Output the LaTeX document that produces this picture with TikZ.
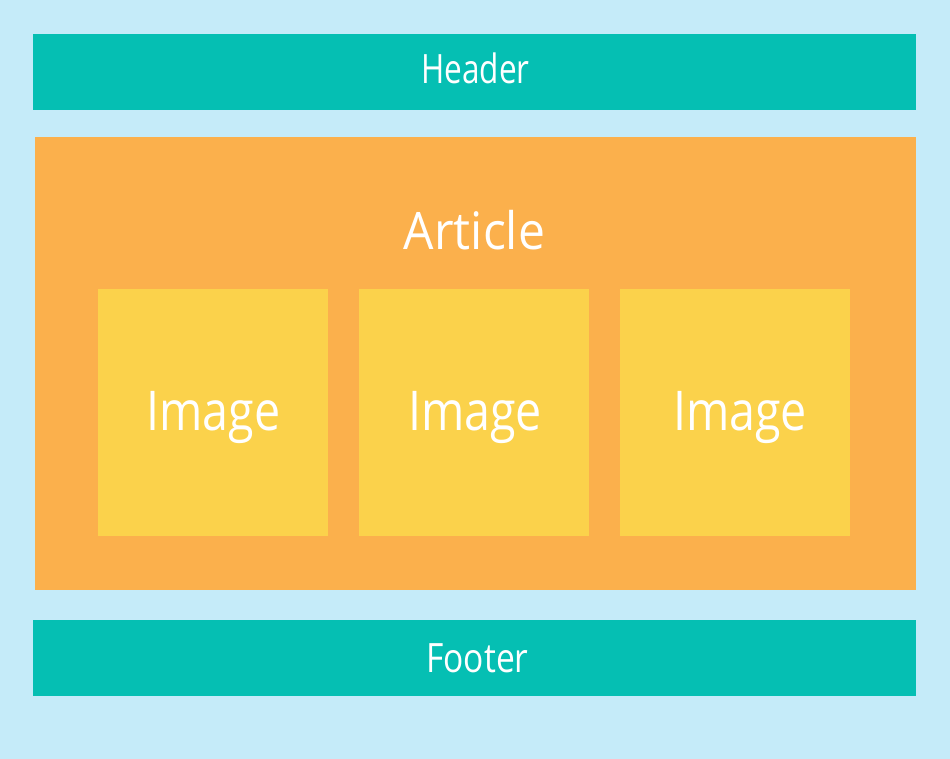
\documentclass[tikz,border=0pt]{standalone}
\usepackage{fontspec}
\setmainfont{Open Sans}
\usepackage{xcolor}
\definecolor{skyback}{HTML}{C5EBF9}
\definecolor{tealbar}{HTML}{05BFB3}
\definecolor{orangebox}{HTML}{FBB04C}
\definecolor{yellowbox}{HTML}{FBD24B}

\begin{document}
\begin{tikzpicture}[x=0.02cm, y=-0.02cm]
	\fill[skyback] (0,0) rectangle (950,759);
	\useasboundingbox (0,0) rectangle (950,759);
	\fill[tealbar] (33,34) rectangle (916,110);
	\fill[orangebox] (35,137) rectangle (916,590);
	\fill[yellowbox] (98,289) rectangle (328,536);
	\fill[yellowbox] (359,289) rectangle (589,536);
	\fill[yellowbox] (620,289) rectangle (850,536);
	\fill[tealbar] (33,620) rectangle (916,696);
	\node[anchor=base, inner sep=0, xscale=0.78, text=white, font=\fontsize{23}{27}\selectfont] (header) at (475.5,84) {Header};
	\node[anchor=base, inner sep=0, xscale=0.93, text=white, font=\fontsize{29.4}{35}\selectfont] (article) at (474.5,250) {Article};
	\node[anchor=base, inner sep=0, xscale=0.85, text=white, font=\fontsize{31.2}{37}\selectfont] (imageA) at (213.5,431) {Image};
	\node[anchor=base, inner sep=0, xscale=0.85, text=white, font=\fontsize{31.2}{37}\selectfont] (imageB) at (475,431) {Image};
	\node[anchor=base, inner sep=0, xscale=0.85, text=white, font=\fontsize{31.2}{37}\selectfont] (imageC) at (740,431) {Image};
	\node[anchor=base, inner sep=0, xscale=0.83, text=white, font=\fontsize{23}{27}\selectfont] (footer) at (477.5,673) {Footer};
\end{tikzpicture}
\end{document}
